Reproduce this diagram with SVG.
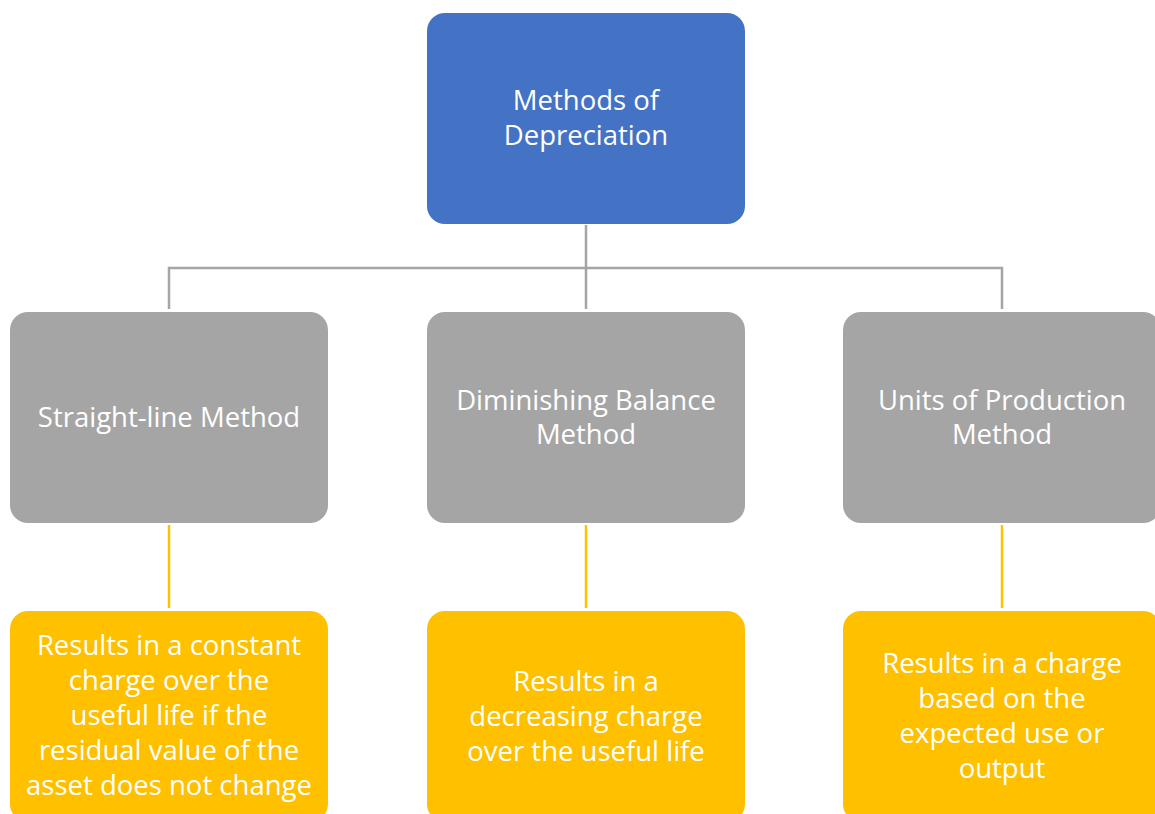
<svg xmlns="http://www.w3.org/2000/svg" width="1155" height="814" viewBox="0 0 1155 814">
  <style>
    .box { stroke: none; }
    .root { fill: #4472C4; }
    .method { fill: #A5A5A5; }
    .result { fill: #FFC000; }
    .label { fill: #FFFFFF; font-family: "Open Sans", "Liberation Sans", sans-serif; font-size: 27.5px; text-anchor: middle; }
    .link-gray { stroke: #A5A5A5; stroke-width: 2.5; fill: none; }
    .link-gold { stroke: #FFC000; stroke-width: 2.5; fill: none; }
  </style>
  <rect width="1155" height="814" fill="#FFFFFF"/>

  <g id="connectors">
    <path class="link-gray" d="M586 225 V309"/>
    <path class="link-gray" d="M169 309 V268 H1002 V309"/>
    <path class="link-gold" d="M169 525 V608"/>
    <path class="link-gold" d="M586 525 V608"/>
    <path class="link-gold" d="M1002 525 V608"/>
  </g>

  <g id="node-root">
    <rect class="box root" x="427" y="13" width="318" height="211" rx="18"/>
    <text class="label" x="586" y="110">Methods of</text>
    <text class="label" x="586" y="145">Depreciation</text>
  </g>

  <g id="node-straight-line">
    <rect class="box method" x="10" y="312" width="318" height="211" rx="18"/>
    <text class="label" x="169" y="427">Straight-line Method</text>
  </g>

  <g id="node-diminishing">
    <rect class="box method" x="427" y="312" width="318" height="211" rx="18"/>
    <text class="label" x="586" y="410">Diminishing Balance</text>
    <text class="label" x="586" y="444">Method</text>
  </g>

  <g id="node-units">
    <rect class="box method" x="843" y="312" width="318" height="211" rx="18"/>
    <text class="label" x="1002" y="410">Units of Production</text>
    <text class="label" x="1002" y="444">Method</text>
  </g>

  <g id="node-result-constant">
    <rect class="box result" x="10" y="611" width="318" height="211" rx="18"/>
    <text class="label" x="169" y="655">Results in a constant</text>
    <text class="label" x="169" y="690">charge over the</text>
    <text class="label" x="169" y="725">useful life if the</text>
    <text class="label" x="169" y="760">residual value of the</text>
    <text class="label" x="169" y="795">asset does not change</text>
  </g>

  <g id="node-result-decreasing">
    <rect class="box result" x="427" y="611" width="318" height="211" rx="18"/>
    <text class="label" x="586" y="691">Results in a</text>
    <text class="label" x="586" y="726">decreasing charge</text>
    <text class="label" x="586" y="761">over the useful life</text>
  </g>

  <g id="node-result-usage">
    <rect class="box result" x="843" y="611" width="318" height="211" rx="18"/>
    <text class="label" x="1002" y="673">Results in a charge</text>
    <text class="label" x="1002" y="708">based on the</text>
    <text class="label" x="1002" y="743">expected use or</text>
    <text class="label" x="1002" y="778">output</text>
  </g>
</svg>
